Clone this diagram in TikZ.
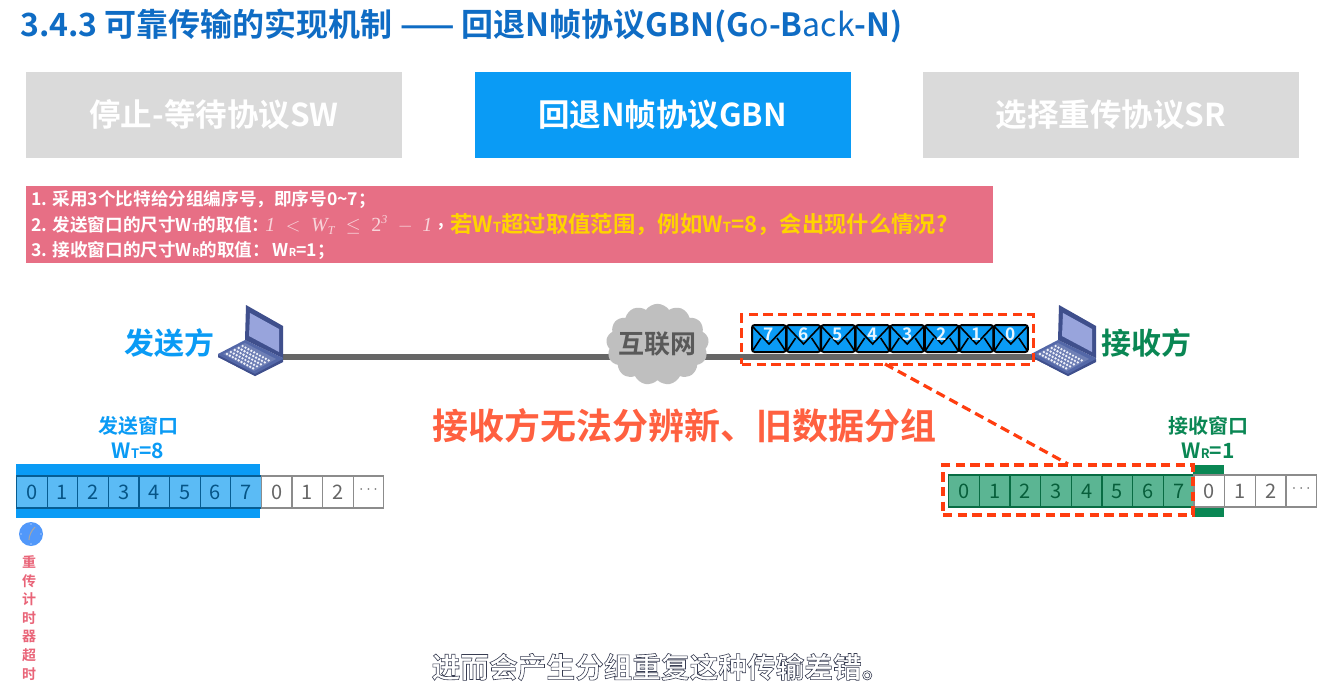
\documentclass[tikz,border=0pt]{standalone}
\usepackage{fontspec}
\setmainfont{Noto Sans CJK SC}[BoldFont={* Bold}]
\newfontfamily\serf{Liberation Serif}
\usetikzlibrary{shapes.symbols}
\definecolor{skyb}{HTML}{0A9BF5}
\definecolor{titleb}{HTML}{0F6CC4}
\definecolor{greyt}{HTML}{DADADA}
\definecolor{pinkb}{HTML}{E76F85}
\definecolor{yell}{HTML}{FFD400}
\definecolor{redd}{HTML}{FF3D0F}
\definecolor{redm}{HTML}{FF6040}
\definecolor{grn}{HTML}{0A8754}
\definecolor{grnl}{HTML}{5BB593}
\definecolor{blul}{HTML}{5BBBF5}
\definecolor{lapd}{HTML}{3F4F8C}
\definecolor{lapm}{HTML}{5468A8}
\definecolor{lapl}{HTML}{98A4DC}
\newcommand{\px}[1]{\fontsize{\dimexpr #1pt*3/4\relax}{\dimexpr #1pt*9/10\relax}\selectfont\bfseries}
\newcommand{\lo}[1]{{\fontsize{0.62em}{1em}\selectfont #1}}
\newcommand{\mi}[1]{\mbox{\serf\itshape #1}}
\newcommand{\mt}[1]{\mbox{\serf\itshape\fontsize{9pt}{9pt}\selectfont #1}}
\newcommand{\hollow}[1]{\special{pdf:code 2 Tr 0.45 w 0.22 0.24 0.32 RG}#1\special{pdf:code 0 Tr 0 w}}
\tikzset{
 x=0.75pt,y=-0.75pt,
 tab/.style={minimum width=282pt,minimum height=64.5pt,inner sep=0pt,text=white,font=\px{31.5}},
 lab/.style={inner sep=0pt,font=\px{17.6}},
 reddash/.style={draw=redd,line width=2.4pt,dash pattern=on 7pt off 4pt},
 cellnum/.style={line width=0.9pt,minimum width=22.95pt,minimum height=24pt,inner sep=0pt,anchor=west,font=\fontsize{15pt}{15pt}\selectfont},
 laptop/.pic={
  \fill[lapm] (218,354)--(245,340)--(283,358)--(282,362)--(255,376)--(218,357)--cycle;
  \fill[lapd] (218,355)--(255,374)--(255,376)--(218,357)--cycle;
  \fill[lapd] (255,374)--(283,359)--(283,362)--(255,376)--cycle;
  \fill[lapm!85!white] (223,354)--(245,343)--(276,359)--(254,371)--cycle;
  \foreach \i in {0,...,9}{\foreach \j in {0,...,4}{
    \fill[white!85!lapl] ({227+\i*2.9+\j*3.9},{354+\i*1.6-\j*2.0}) circle (1pt);}}
  \fill[lapd] (245,340)--(246,305)--(283,326)--(283,358)--cycle;
  \fill[lapl] (249,336)--(250,313)--(279,329)--(279,352)--cycle;
 },
 envelope/.pic={
  \fill[skyb,rounded corners=2pt,draw=black,line width=1.5pt] (0,0) rectangle (34,27);
  \draw[black,line width=1.2pt] (1,2) -- (17,19) -- (33,2);
  \draw[black,line width=1.2pt] (1,25) -- (9,13) (33,25) -- (25,13);
 },
}
\begin{document}
\begin{tikzpicture}
\useasboundingbox (0,0) rectangle (1325,686);
\fill[white] (0,0) rectangle (1325,686);
% title
\node[anchor=west,inner sep=0pt,text=titleb,font=\px{32}] (title) at (20,26) {3.4.3 可靠传输的实现机制 —— 回退N帧协议GBN(G{\mdseries o}-B{\mdseries ack}-N)};
% tabs
\node[tab,fill=greyt] (tab1) at (214,115) {停止-等待协议SW};
\node[tab,fill=skyb] (tab2) at (662.5,115) {回退N帧协议GBN};
\node[tab,fill=greyt] (tab3) at (1111,115) {选择重传协议SR};
% rule box
\node[fill=pinkb,minimum width=725.25pt,minimum height=57.75pt,inner sep=0pt,anchor=north west] (rules) at (26,186) {};
\node[lab,anchor=west,text=white] (r1) at (31,199) {1. 采用3个比特给分组编序号，即序号0\textasciitilde 7；};
\node[lab,anchor=west,text=white] (r2) at (31,225) {2. 发送窗口的尺寸W\lo{T}的取值：};
\node[anchor=west,inner sep=0pt,text=white!70!pinkb,font=\fontsize{15pt}{15pt}\selectfont] (r2m) at (265,225) {$\mi{1}\;<\;\mi{W}_{\mt{T}}\;\leq\;\mbox{\serf 2}^{\mt{3}}\;-\;\mi{1}$};
\node[anchor=west,inner sep=0pt,text=white,font=\bfseries\fontsize{13pt}{13pt}\selectfont] (r2c) at (438,227) {,};
\node[anchor=west,inner sep=0pt,text=yell,font=\px{22.3}] (r2b) at (450,225) {若W\lo{T}超过取值范围，例如W\lo{T}=8，会出现什么情况?};
\node[lab,anchor=west,text=white] (r3) at (31,251) {3. 接收窗口的尺寸W\lo{R}的取值：\,W\lo{R}=1；};
% link
\coordinate (sender) at (283,357);
\coordinate (receiver) at (1037,357);
\draw[line width=4.8pt,draw=black!60] (sender) -- (receiver);
% laptops
\pic at (0,0) {laptop};
\pic at (813,0) {laptop};
\node[inner sep=0pt,text=skyb,font=\px{30}] (sendlab) at (169,343) {发送方};
\node[inner sep=0pt,text=grn,font=\px{30}] (recvlab) at (1146,343) {接收方};
% cloud
\node[cloud,cloud puffs=13,cloud puff arc=110,aspect=1.25,fill=black!25,inner sep=0pt,minimum width=77pt,minimum height=61pt] (net) at (657.5,344.5) {};
\node[inner sep=0pt,text=black!65,font=\px{26}] (netlab) at (657,344) {互联网};
% envelopes
\foreach \n [count=\i from 0] in {7,6,5,4,3,2,1,0}{
  \pic at ({752+\i*34.55},325) {envelope};
  \node[inner sep=0pt,text=white!90!skyb,font=\bfseries\fontsize{13pt}{13pt}\selectfont] (env\n) at ({769+\i*34.55},334) {\n};
}
% dashed
\node[reddash,minimum width=218.5pt,minimum height=37pt,inner sep=0pt] (queue) at (887.5,339.5) {};
\coordinate (qout) at (885,364);
\coordinate (wout) at (1068,464);
\draw[reddash] (qout) -- (wout);
% sender window
\fill[skyb] (16,464) rectangle (260,518);
\foreach \i [evaluate=\i as \xx using 16+\i*30.6] in {0,...,7}{
  \node[cellnum,draw=skyb!60!black,fill=blul,text=skyb!55!black] (s\i) at (\xx,492) {\i};
}
\foreach \t [count=\i from 8,evaluate=\i as \xx using 16+\i*30.6] in {0,1,2,\raisebox{3pt}{\fontsize{13pt}{13pt}\selectfont$\cdots$}}{
  \node[cellnum,draw=black!45,text=black!60] (s\i) at (\xx,492) {\t};
}
\node[inner sep=0pt,text=skyb,font=\px{20}] (swt) at (138,426) {发送窗口};
\node[inner sep=0pt,text=skyb,font=\px{21}] (swv) at (138,451) {W\lo{T}=8};
% timer
\node[circle,fill=blue!30!skyb!70!white,minimum size=18pt,inner sep=0pt] (clock) at (31,534) {};
\draw[black!35,line width=0.8pt] (29,540) .. controls (29,536) and (31,531) .. (35,527);
\foreach \a in {0,90,180,270}{\fill[white] (clock.center) ++(\a:7.5pt) circle (0.5pt);}
\node[inner sep=0pt,text=pinkb!90!red,align=center,font=\bfseries\fontsize{10.5pt}{13.9pt}\selectfont] (tmr) at (29,618) {重\\传\\计\\时\\器\\超\\时};
% receiver window
\fill[grn] (1193,465) rectangle (1224,517);
\foreach \i [evaluate=\i as \xx using 948+\i*30.67] in {0,...,7}{
  \node[cellnum,draw=grn!80!black,fill=grnl,text=grn!70!black] (g\i) at (\xx,491) {\i};
}
\foreach \t [count=\i from 8,evaluate=\i as \xx using 948+\i*30.67] in {0,1,2,\raisebox{3pt}{\fontsize{13pt}{13pt}\selectfont$\cdots$}}{
  \node[cellnum,draw=black!45,fill=white,text=black!60] (g\i) at (\xx,491) {\t};
}
\node[reddash,minimum width=187.5pt,minimum height=37.5pt,inner sep=0pt] (wbox) at (1068,490) {};
\node[inner sep=0pt,text=grn,font=\px{20}] (rwt) at (1208,426) {接收窗口};
\node[inner sep=0pt,text=grn,font=\px{21}] (rwv) at (1208,451) {W\lo{R}=1};
% message
\node[inner sep=0pt,text=redm,font=\px{36}] (msg) at (684,426) {接收方无法分辨新、旧数据分组};
% caption
\node[inner sep=0pt,text=white,font=\bfseries\fontsize{21.5pt}{24pt}\selectfont] (cap) at (661,667) {\hollow{进而会产生分组重复这种传输差错。}};
\end{tikzpicture}
\end{document}
